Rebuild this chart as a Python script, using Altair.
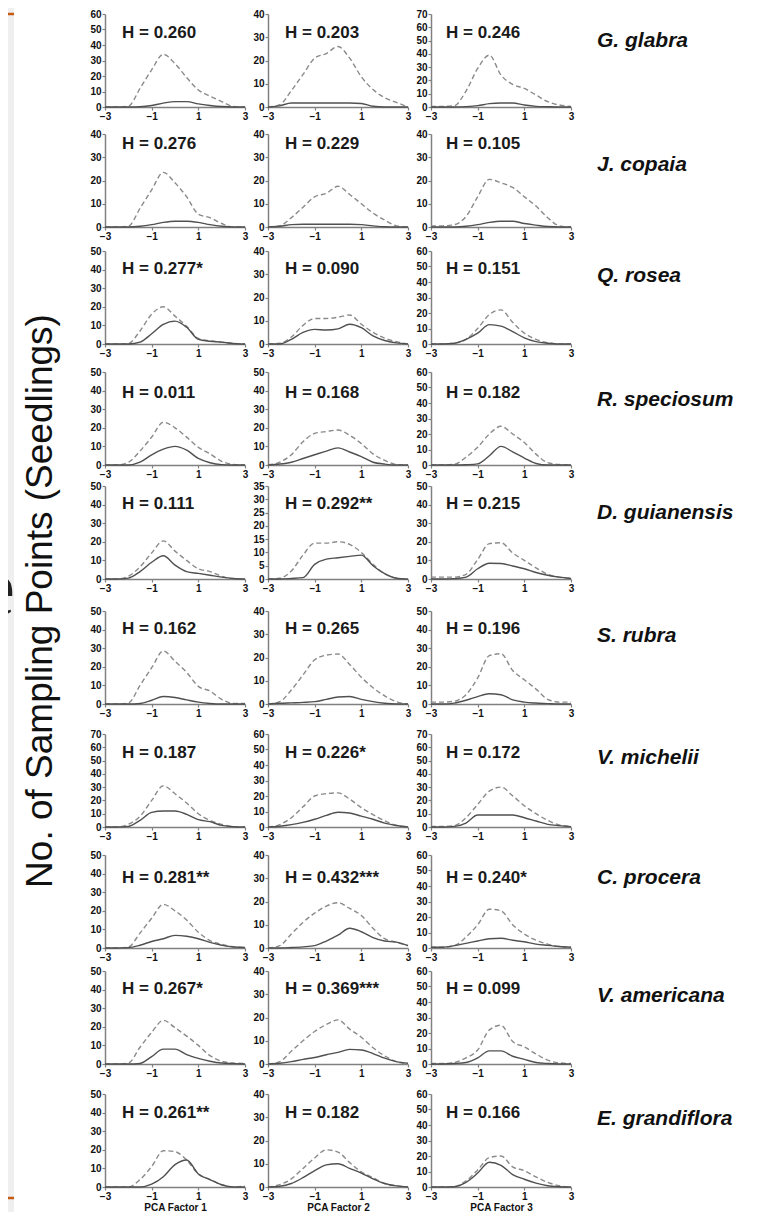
import altair as alt
import pandas as pd

# ---------------- data ----------------
X = [-3, -2.5, -2, -1.5, -1, -0.5, 0, 0.5, 1, 1.5, 2, 2.5, 3]
X_TICKS = [-3, -1, 1, 3]
FACTOR_TITLES = ["PCA Factor 1", "PCA Factor 2", "PCA Factor 3"]
Y_TITLE = "No. of Sampling Points (Seedlings)"

SPECIES = ["G. glabra", "J. copaia", "Q. rosea", "R. speciosum", "D. guianensis",
           "S. rubra", "V. michelii", "C. procera", "V. americana", "E. grandiflora"]

H_LABELS = [
    ["H = 0.260", "H = 0.203", "H = 0.246"],
    ["H = 0.276", "H = 0.229", "H = 0.105"],
    ["H = 0.277*", "H = 0.090", "H = 0.151"],
    ["H = 0.011", "H = 0.168", "H = 0.182"],
    ["H = 0.111", "H = 0.292**", "H = 0.215"],
    ["H = 0.162", "H = 0.265", "H = 0.196"],
    ["H = 0.187", "H = 0.226*", "H = 0.172"],
    ["H = 0.281**", "H = 0.432***", "H = 0.240*"],
    ["H = 0.267*", "H = 0.369***", "H = 0.099"],
    ["H = 0.261**", "H = 0.182", "H = 0.166"],
]

Y_MAX = [[60, 40, 70], [40, 40, 40], [50, 40, 60], [50, 50, 60], [50, 35, 50],
         [50, 40, 50], [70, 60, 70], [50, 40, 60], [50, 40, 60], [50, 40, 60]]
Y_STEP = [[10, 10, 10], [10, 10, 10], [10, 10, 10], [10, 10, 10], [10, 5, 10],
          [10, 10, 10], [10, 10, 10], [10, 10, 10], [10, 10, 10], [10, 10, 10]]

# dashed = all sampling points, solid = points with seedlings; one list per PCA factor
glabra_dashed = [[0, 0, 0.5, 12, 24, 34, 28, 19, 11, 7, 3.5, 0.3, 0],
                 [0, 1, 7, 14, 21, 23, 26, 21, 13, 7.5, 4, 2, 0],
                 [0.5, 0.5, 1, 12, 29, 39, 24, 17, 14, 9, 4, 1.5, 0.5]]
glabra_solid = [[0, 0, 0, 0.2, 1, 2.5, 3.5, 3.5, 2, 1, 0.3, 0, 0],
                [0, 0.5, 1.7, 1.7, 1.7, 1.7, 1.7, 1.7, 1.5, 0.3, 0, 0, 0],
                [0, 0, 0, 0.3, 1, 2.5, 3, 3, 1.5, 0.5, 0.2, 0, 0]]

copaia_dashed = [[0, 0, 0.3, 8, 16, 23.5, 19, 13, 5.5, 4, 1.5, 0, 0],
                 [0, 0.5, 4, 8.5, 13, 14.5, 17.5, 14, 10, 6, 3, 0.5, 0],
                 [0.5, 0.5, 1, 4.5, 13, 20.5, 19, 17, 13, 9, 4, 0.5, 0]]
copaia_solid = [[0, 0, 0, 0.3, 1, 2, 2.5, 2.5, 2, 1, 0.3, 0, 0],
                [0, 0.3, 1, 1.2, 1.2, 1.2, 1.2, 1.2, 1, 0.5, 0.1, 0, 0],
                [0, 0, 0, 0.3, 1, 2, 2.5, 2.5, 1.5, 0.8, 0.2, 0, 0]]

rosea_dashed = [[0, 0, 0.3, 7, 16, 20, 15, 9.5, 3, 1.7, 1, 0.3, 0],
                [0, 0.3, 3, 8, 11, 11, 11.5, 12.5, 8.5, 5, 2.5, 1, 0],
                [0, 0, 0.5, 3, 10, 19, 22, 14, 7, 3, 0.8, 0, 0]]
rosea_solid = [[0, 0, 0, 1, 5.5, 10.5, 12.3, 9, 2.5, 1.5, 1, 0.3, 0],
               [0, 0, 2, 5, 6.3, 6, 6.5, 8.5, 7, 3.5, 1.5, 0.5, 0],
               [0, 0, 0.5, 3, 7, 12.5, 11.5, 8, 4, 1.5, 0.5, 0, 0]]

speciosum_dashed = [[0, 0, 1.5, 7.5, 15, 23, 20, 15, 9.5, 6, 2, 0.3, 0],
                    [0, 1.5, 5.5, 12.5, 17, 18, 18.8, 16, 11.5, 6, 2.5, 0.3, 0],
                    [0, 0, 0.5, 5, 11.5, 20, 25, 20, 14.5, 7, 1.5, 0.3, 0]]
speciosum_solid = [[0, 0, 0, 1.5, 5.5, 8.5, 10, 8, 3.5, 1.2, 0.2, 0, 0],
                   [0, 0.5, 1.5, 3.5, 5.5, 7.5, 9.2, 7, 4.5, 1.5, 0.5, 0, 0],
                   [0, 0, 0, 0.2, 0.7, 6, 12, 8.5, 4.5, 1, 0, 0, 0]]

guianensis_dashed = [[0, 0, 1.5, 6.5, 14, 20.5, 15, 10, 5.5, 4, 1.5, 0, 0],
                     [0, 0.3, 3, 9, 13.5, 13.5, 14, 13, 10, 5.5, 2, 0.3, 0],
                     [1, 1, 1, 2.5, 10.5, 19, 19.5, 14, 10, 6, 2.5, 1, 0.5]]
guianensis_solid = [[0, 0, 0.5, 4, 9, 12.5, 7.5, 4, 3, 2, 1, 0.3, 0],
                    [0, 0, 0.2, 0.5, 5.5, 7.5, 8, 8.5, 9, 5, 2, 0.3, 0],
                    [0, 0, 0.2, 1, 5.5, 8.5, 8.3, 7, 5.5, 3.5, 2, 1, 0.3]]

rubra_dashed = [[0, 0, 0.5, 10, 19.5, 28.5, 23, 17, 9.5, 7, 2.5, 0.3, 0.3],
                [0, 1, 6, 12.5, 19, 21, 21.5, 17, 11.5, 7, 3.5, 1, 0],
                [1, 1, 1.5, 5, 14, 26, 27, 18, 13, 8, 2.5, 1, 1]]
rubra_solid = [[0, 0, 0, 0.3, 2, 4, 3.5, 2.2, 1, 0.3, 0, 0, 0],
               [0, 0.3, 0.5, 0.7, 1, 2, 3, 3.2, 2, 1, 0.3, 0, 0],
               [0, 0, 0.5, 2, 4, 5.5, 5, 2.2, 1, 0.5, 0.2, 0, 0]]

michelii_dashed = [[0, 0, 2, 8, 20, 31, 25, 18, 10, 5, 2, 0.3, 0],
                   [0, 1.5, 6, 13, 20, 21.5, 22, 18, 12.5, 8, 4, 1, 0],
                   [0.5, 0.5, 1, 7, 17, 27, 30, 23.5, 16, 10, 5, 1.5, 0.5]]
michelii_solid = [[0, 0, 0.5, 5, 11, 12, 12, 9.5, 5.5, 4, 1.2, 0.2, 0],
                  [0, 0.5, 1.5, 3, 5, 7.5, 9.5, 9, 7, 5, 2.5, 1, 0],
                  [0, 0, 0.5, 3, 9, 9, 9, 9, 7, 4.5, 2, 1, 0.3]]

procera_dashed = [[0, 0, 0.5, 8, 16, 23.5, 20, 15, 8.5, 4, 2, 0.7, 0.3],
                  [0, 1, 6, 11, 15, 18, 19.5, 17, 14, 8.5, 4, 2.5, 1],
                  [0.5, 0.5, 1.5, 7, 15, 25, 24, 15, 9, 5, 2.5, 1, 0.5]]
procera_solid = [[0, 0, 0.2, 1.5, 3.5, 5, 6.8, 6.3, 5, 3, 1.5, 0.5, 0.3],
                 [0, 0, 0.2, 0.5, 1, 3, 5.5, 8.5, 7, 4.5, 3, 2.5, 1],
                 [0.5, 0.5, 1.5, 3, 4.5, 6, 6.3, 5, 4, 2.5, 1.7, 1, 0.5]]

americana_dashed = [[0, 0, 0.5, 9, 17, 23.5, 19.5, 15, 10, 4.5, 1.5, 0.5, 0.3],
                    [0, 1, 5.5, 10, 14, 17, 19, 15, 11.5, 7, 3.5, 1, 0],
                    [0.3, 0.3, 1, 4, 9, 22, 25, 14.5, 11, 6.5, 2.5, 0.7, 0.3]]
americana_solid = [[0, 0, 0, 0.3, 4, 8, 8, 5, 3, 1.5, 0.5, 0.2, 0],
                   [0, 0.3, 1, 2, 2.8, 4, 5, 6.3, 6, 4.5, 2.5, 1, 0.3],
                   [0, 0, 0.3, 1, 4, 8.5, 8.5, 5, 3, 1, 0.3, 0, 0]]

grandiflora_dashed = [[0, 0, 0, 4, 11, 19.5, 19, 14.5, 7, 4, 1.2, 0, 0.5],
                      [0, 1, 3.5, 8, 12.5, 16, 15, 10.5, 6.5, 4, 1.5, 0.5, 0],
                      [0, 0, 0.3, 4, 11, 19, 20, 13, 10.5, 6.5, 3, 0.8, 0]]
grandiflora_solid = [[0, 0, 0, 0, 1.5, 5.5, 12, 14.5, 7, 4, 1.2, 0, 0],
                     [0, 0.3, 1.5, 4, 7, 9.5, 10, 8, 6, 3.5, 1.5, 0.5, 0],
                     [0, 0, 0.2, 3, 9, 16, 14, 8, 5, 2.5, 0.8, 0.2, 0]]

DASHED = [glabra_dashed, copaia_dashed, rosea_dashed, speciosum_dashed, guianensis_dashed,
          rubra_dashed, michelii_dashed, procera_dashed, americana_dashed, grandiflora_dashed]
SOLID = [glabra_solid, copaia_solid, rosea_solid, speciosum_solid, guianensis_solid,
         rubra_solid, michelii_solid, procera_solid, americana_solid, grandiflora_solid]

# ---------------- layout / style ----------------
PANEL_W = 140
PANEL_H = 93
COL_GAP = 23
ROW_GAPS = [27, 24, 28, 21, 32, 30, 28, 23, 30]
H_Y = [19, 10, 18, 21, 18, 18, 19, 23, 18, 19]
H_X = [17, 17, 15]
SP_Y = [27, 31, 25, 28, 27, 25, 24, 23, 25, 25]
FONT = "Liberation Sans"
DASH_COLOR = "#8a8a8a"
SOLID_COLOR = "#505050"
ONE = pd.DataFrame({"v": [0]})


def panel(r, c):
    rows = []
    for xv, d, s in zip(X, DASHED[r][c], SOLID[r][c]):
        rows.append({"x": xv, "v": d, "s": "all"})
        rows.append({"x": xv, "v": s, "s": "seedlings"})
    df = pd.DataFrame(rows)
    ymax = Y_MAX[r][c]
    step = Y_STEP[r][c]
    xkw = dict(scale=alt.Scale(domain=[-3, 3], nice=False, zero=False),
               axis=alt.Axis(values=X_TICKS, format="d", labelFlush=False))
    xkw["title"] = FACTOR_TITLES[c] if r == 9 else ""
    base = alt.Chart(df).encode(
        x=alt.X("x:Q", **xkw),
        y=alt.Y("v:Q", title="",
                scale=alt.Scale(domain=[0, ymax], nice=False),
                axis=alt.Axis(values=list(range(0, ymax + 1, step)), labelOverlap=False)),
    )
    dashed = base.transform_filter(alt.datum.s == "all").mark_line(
        color=DASH_COLOR, strokeDash=[5, 3], strokeWidth=1.4, interpolate="monotone")
    solid = base.transform_filter(alt.datum.s == "seedlings").mark_line(
        color=SOLID_COLOR, strokeWidth=1.4, interpolate="monotone")
    htxt = alt.Chart(pd.DataFrame({"t": [H_LABELS[r][c]]})).mark_text(
        align="left", baseline="middle", font=FONT, fontSize=17, fontWeight="bold",
        color="#1a1a1a").encode(x=alt.value(H_X[c]), y=alt.value(H_Y[r]), text="t:N")
    layers = []
    if r == 0 and c == 0:
        strip = alt.Chart(ONE).mark_rect(color="#efefef").encode(
            x=alt.value(-133), x2=alt.value(-91), y=alt.value(-13), y2=alt.value(1199))
        top_line = alt.Chart(ONE).mark_rule(color="#c55a11", strokeWidth=2.5).encode(
            x=alt.value(-133), x2=alt.value(-91), y=alt.value(0))
        bot_line = alt.Chart(ONE).mark_rule(color="#c55a11", strokeWidth=2.5).encode(
            x=alt.value(-133), x2=alt.value(-91), y=alt.value(1184))
        e_txt = alt.Chart(pd.DataFrame({"t": ["e"]})).mark_text(
            align="right", baseline="alphabetic", font="Liberation Serif", fontSize=80,
            color="#222222").encode(x=alt.value(-90), y=alt.value(600), text="t:N")
        ytitle = alt.Chart(pd.DataFrame({"t": [Y_TITLE]})).mark_text(
            align="center", baseline="alphabetic", angle=270, font=FONT, fontSize=37,
            color="#111111").encode(x=alt.value(-53), y=alt.value(587), text="t:N")
        layers += [strip, top_line, bot_line, e_txt, ytitle]
    layers += [dashed, solid, htxt]
    if c == 2:
        sp = alt.Chart(pd.DataFrame({"t": [SPECIES[r]]})).mark_text(
            align="left", baseline="middle", font=FONT, fontSize=21, fontWeight="bold",
            fontStyle="italic", color="#111111").encode(
            x=alt.value(166), y=alt.value(SP_Y[r]), text="t:N")
        layers.append(sp)
    return alt.layer(*layers).properties(width=PANEL_W, height=PANEL_H)


def spacer(h):
    return alt.Chart(ONE).mark_point(opacity=0).encode(
        x=alt.value(0), y=alt.value(0)).properties(width=1, height=h)


cells = []
for r in range(10):
    cells += [panel(r, c) for c in range(3)]
    if r < 9:
        cells += [spacer(ROW_GAPS[r]) for _ in range(3)]

chart = alt.concat(*cells, columns=3, spacing={"row": 0, "column": COL_GAP},
                   bounds="flush").properties(
    padding={"left": -38, "top": -8, "right": 0, "bottom": 0},
    background="white",
).configure_view(stroke="transparent").configure_axis(
    grid=False,
    labelFont=FONT, labelFontSize=10, labelFontWeight="bold", labelColor="#111111",
    labelPadding=1,
    domainColor="#808080", domainWidth=1.5,
    tickColor="#808080", tickSize=3, tickWidth=1.2,
    titleFont=FONT, titleFontSize=10, titleFontWeight="bold", titleColor="#111111",
    titlePadding=1,
)

chart.save("out.html", embed_options={"renderer": "svg", "actions": False})
